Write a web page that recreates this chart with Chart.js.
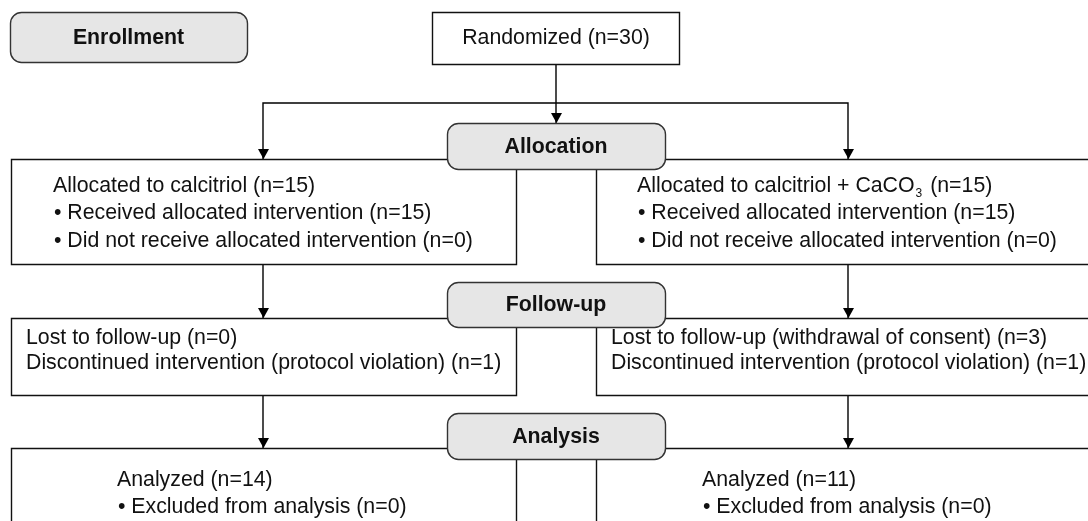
<!DOCTYPE html>
<html>
<head>
<meta charset="utf-8">
<script src="https://cdn.jsdelivr.net/npm/chart.js@4"></script>
<style>
  body { margin: 0; background: #fff; }
  #flow { display: block; }
</style>
</head>
<body>
<canvas id="flow" width="1088" height="521"></canvas>
<script>
// Dados do fluxograma
const etapas = ['Enrollment', 'Allocation', 'Follow-up', 'Analysis'];
const randomizados = 30;
const grupos = ['calcitriol', 'calcitriol + CaCO_3'];
const alocados = [15, 15];
const receberam = [15, 15];
const naoReceberam = [0, 0];
const perdidos = [0, 3];
const motivoPerda = ['', ' (withdrawal of consent)'];
const descontinuados = [1, 1];
const analisados = [14, 11];
const excluidos = [0, 0];

// Layout (coordenadas no espaço das escalas)
const colX = [263, 848];
const caixaEtapa = [
  { x0: 10, x1: 247, y0: 12, y1: 62 },
  { x0: 447, x1: 665, y0: 123, y1: 169 },
  { x0: 447, x1: 665, y0: 282, y1: 327 },
  { x0: 447, x1: 665, y0: 413, y1: 459 }
];
const caixaRandom = { x0: 432, x1: 679, y0: 12, y1: 64 };
const caixasAlocacao = [{ x0: 11, x1: 516, y0: 159, y1: 264 }, { x0: 596, x1: 1096, y0: 159, y1: 264 }];
const caixasSeguimento = [{ x0: 11, x1: 516, y0: 318, y1: 395 }, { x0: 596, x1: 1096, y0: 318, y1: 395 }];
const caixasAnalise = [{ x0: 11, x1: 516, y0: 448, y1: 540 }, { x0: 596, x1: 1096, y0: 448, y1: 540 }];

const FONTE = '"Liberation Sans", Arial, sans-serif';
const TAM = 21.3;

// Conectores (linhas)
const conectores = [
  [{ x: 556, y: 64 }, { x: 556, y: 123 }],
  [{ x: colX[0], y: 159 }, { x: colX[0], y: 103 }, { x: colX[1], y: 103 }, { x: colX[1], y: 159 }],
  [{ x: colX[0], y: 264 }, { x: colX[0], y: 318 }],
  [{ x: colX[1], y: 264 }, { x: colX[1], y: 318 }],
  [{ x: colX[0], y: 395 }, { x: colX[0], y: 448 }],
  [{ x: colX[1], y: 395 }, { x: colX[1], y: 448 }]
];
const pontasSeta = [
  { x: 556, y: 123 }, { x: colX[0], y: 159 }, { x: colX[1], y: 159 },
  { x: colX[0], y: 318 }, { x: colX[1], y: 318 }, { x: colX[0], y: 448 }, { x: colX[1], y: 448 }
];

function textoGrupo(i) {
  return 'Allocated to ' + grupos[i] + ' (n=' + alocados[i] + ')';
}

// desenha texto com subscrito marcado por "_"
function escreve(ctx, txt, x, y, negrito) {
  const partes = txt.split(/_(\d)/);
  let cx = x;
  partes.forEach((p, k) => {
    if (k % 2 === 1) {
      ctx.font = '12px ' + FONTE;
      ctx.fillText(p, cx + 1, y + 8);
      cx += ctx.measureText(p).width + 3;
    } else {
      ctx.font = (negrito ? 'bold ' : '') + TAM + 'px ' + FONTE;
      ctx.fillText(p, cx, y);
      cx += ctx.measureText(p).width;
    }
  });
}

const flowPlugin = {
  id: 'flow',
  afterDatasetsDraw(chart) {
    const ctx = chart.ctx;
    const sx = chart.scales.x, sy = chart.scales.y;
    const X = v => sx.getPixelForValue(v);
    const Y = v => sy.getPixelForValue(v);

    function retangulo(b) {
      ctx.beginPath();
      ctx.rect(X(b.x0) + 0.5, Y(b.y0) + 0.5, X(b.x1) - X(b.x0), Y(b.y1) - Y(b.y0));
      ctx.fillStyle = '#fff';
      ctx.fill();
      ctx.lineWidth = 1.4;
      ctx.strokeStyle = '#111';
      ctx.stroke();
    }
    function arredondado(b) {
      ctx.beginPath();
      ctx.roundRect(X(b.x0) + 0.5, Y(b.y0) + 0.5, X(b.x1) - X(b.x0), Y(b.y1) - Y(b.y0), 11);
      ctx.fillStyle = '#e6e6e6';
      ctx.fill();
      ctx.lineWidth = 1.4;
      ctx.strokeStyle = '#333';
      ctx.stroke();
    }

    ctx.save();
    // setas
    ctx.fillStyle = '#000';
    pontasSeta.forEach(p => {
      ctx.beginPath();
      ctx.moveTo(X(p.x) + 0.5, Y(p.y));
      ctx.lineTo(X(p.x) - 5, Y(p.y) - 10);
      ctx.lineTo(X(p.x) + 6, Y(p.y) - 10);
      ctx.closePath();
      ctx.fill();
    });

    [caixaRandom, ...caixasAlocacao, ...caixasSeguimento, ...caixasAnalise].forEach(retangulo);
    caixaEtapa.forEach(arredondado);

    ctx.fillStyle = '#111';
    ctx.textBaseline = 'middle';
    ctx.textAlign = 'left';

    // etapas
    etapas.forEach((t, i) => {
      const b = caixaEtapa[i];
      ctx.font = 'bold ' + TAM + 'px ' + FONTE;
      const w = ctx.measureText(t).width;
      escreve(ctx, t, (X(b.x0) + X(b.x1)) / 2 - w / 2, (Y(b.y0) + Y(b.y1)) / 2 + 1, true);
    });

    // randomizados
    ctx.font = TAM + 'px ' + FONTE;
    const tr = 'Randomized (n=' + randomizados + ')';
    escreve(ctx, tr, X(556) - ctx.measureText(tr).width / 2, Y(38), false);

    // alocação
    const xAloc = [53, 637];
    [0, 1].forEach(i => {
      escreve(ctx, textoGrupo(i), X(xAloc[i]), Y(186), false);
      escreve(ctx, '\u2022 Received allocated intervention (n=' + receberam[i] + ')', X(xAloc[i] + 1), Y(213), false);
      escreve(ctx, '\u2022 Did not receive allocated intervention (n=' + naoReceberam[i] + ')', X(xAloc[i] + 1), Y(241), false);
    });

    // seguimento
    const xSeg = [26, 611];
    [0, 1].forEach(i => {
      escreve(ctx, 'Lost to follow-up' + motivoPerda[i] + ' (n=' + perdidos[i] + ')', X(xSeg[i]), Y(338), false);
      escreve(ctx, 'Discontinued intervention (protocol violation) (n=' + descontinuados[i] + ')', X(xSeg[i]), Y(363), false);
    });

    // análise
    const xAna = [117, 702];
    [0, 1].forEach(i => {
      escreve(ctx, 'Analyzed (n=' + analisados[i] + ')', X(xAna[i]), Y(480), false);
      escreve(ctx, '\u2022 Excluded from analysis (n=' + excluidos[i] + ')', X(xAna[i] + 1), Y(507), false);
    });
    ctx.restore();
  }
};

new Chart(document.getElementById('flow'), {
  type: 'scatter',
  data: {
    datasets: conectores.map(c => ({
      data: c,
      showLine: true,
      borderColor: '#000',
      borderWidth: 1.4,
      pointRadius: 0,
      fill: false,
      tension: 0
    }))
  },
  options: {
    responsive: false,
    animation: false,
    layout: { padding: 0 },
    scales: {
      x: { type: 'linear', min: 0, max: 1088, display: false },
      y: { type: 'linear', min: 0, max: 521, reverse: true, display: false }
    },
    plugins: { legend: { display: false }, tooltip: { enabled: false } }
  },
  plugins: [flowPlugin]
});
</script>
</body>
</html>
